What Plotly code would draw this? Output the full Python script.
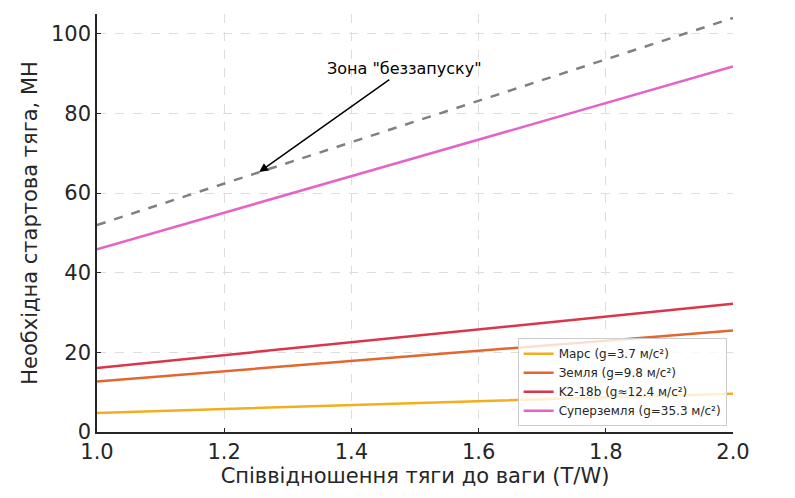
import plotly.graph_objects as go

# Співвідношення тяги до ваги (T/W)
tw = [1.0, 1.2, 1.4, 1.6, 1.8, 2.0]

# Необхідна стартова тяга, МН
mars = [4.8, 5.8, 6.7, 7.7, 8.7, 9.6]
earth = [12.7, 15.3, 17.8, 20.4, 22.9, 25.5]
k2_18b = [16.1, 19.3, 22.6, 25.8, 29.0, 32.2]
super_earth = [45.9, 55.1, 64.3, 73.4, 82.6, 91.8]
no_launch = [52.0, 62.4, 72.8, 83.2, 93.6, 104.0]

series = [
    ("Марс (g=3.7 м/с²)", mars, "#F2AE1C"),
    ("Земля (g=9.8 м/с²)", earth, "#E2672D"),
    ("K2-18b (g≈12.4 м/с²)", k2_18b, "#DB3549"),
    ("Суперземля (g=35.3 м/с²)", super_earth, "#E463C9"),
]

fig = go.Figure()

fig.add_trace(go.Scatter(
    x=tw, y=no_launch, mode="lines", showlegend=False,
    line=dict(color="#808080", width=2.5, dash="dash"),
))

for name, vals, color in series:
    fig.add_trace(go.Scatter(
        x=tw, y=vals, mode="lines", name=name,
        line=dict(color=color, width=2.5),
    ))

fig.add_annotation(
    x=1.255, y=65.3, xref="x", yref="y",
    ax=1.484, ay=91.3, axref="x", ayref="y",
    text='Зона "беззапуску"', showarrow=True,
    arrowhead=2, arrowsize=1.2, arrowwidth=1.5, arrowcolor="black",
    font=dict(size=16, color="black"),
)

# page body adds an 8px offset, so the figure is 8px smaller each way
fig.update_layout(
    width=787, height=490,
    margin=dict(l=89, r=62, t=6, b=66),
    paper_bgcolor="white", plot_bgcolor="white",
    font=dict(family="DejaVu Sans", color="#262626"),
    legend=dict(
        x=0.99, y=0.014, xanchor="right", yanchor="bottom",
        bgcolor="rgba(255,255,255,0.8)", bordercolor="#cccccc", borderwidth=1,
        font=dict(size=12), tracegroupgap=0, itemwidth=30,
    ),
)

fig.update_xaxes(
    title=dict(text="Співвідношення тяги до ваги (T/W)", font=dict(size=21), standoff=4),
    range=[1.0, 2.0], tickvals=tw, ticktext=["1.0", "1.2", "1.4", "1.6", "1.8", "2.0"],
    tickfont=dict(size=21), ticks="inside", ticklen=4, tickcolor="#262626",
    showline=True, linecolor="#262626", linewidth=1.5, automargin=False,
    showgrid=True, gridcolor="#dddddd", griddash="dash", gridwidth=1, zeroline=False,
)
fig.update_yaxes(
    title=dict(text="Необхідна стартова тяга, МН", font=dict(size=21), standoff=8),
    range=[0, 105], tickvals=[0, 20, 40, 60, 80, 100],
    tickfont=dict(size=21), ticks="inside", ticklen=4, tickcolor="#262626",
    showline=True, linecolor="#262626", linewidth=1.5, automargin=False,
    showgrid=True, gridcolor="#dddddd", griddash="dash", gridwidth=1, zeroline=False,
)

fig.write_html("out.html")
